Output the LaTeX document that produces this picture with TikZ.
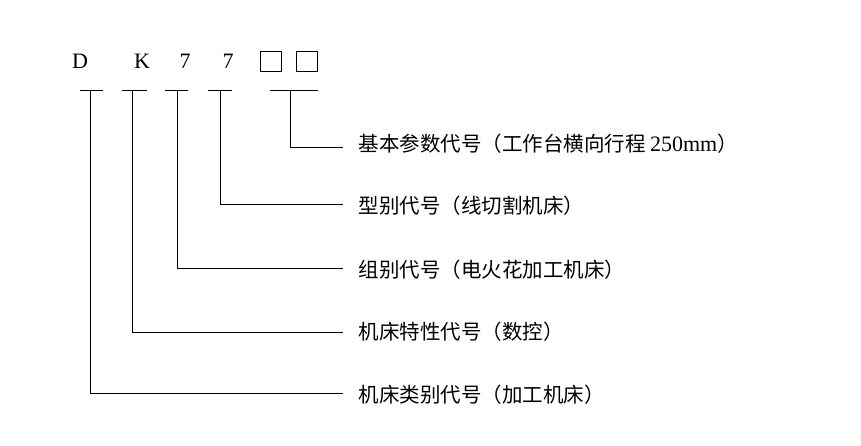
\documentclass[tikz,border=0pt]{standalone}
\usepackage{fontspec}
\setmainfont{Liberation Serif}
\newfontfamily\cjk{Noto Sans CJK SC}
\begin{document}
\begin{tikzpicture}[x=1pt,y=-1pt,line width=1pt,
  lbl/.style={anchor=west,inner sep=0pt,font=\cjk\fontsize{20.5}{24}\selectfont},
  ltr/.style={inner sep=0pt,font=\fontsize{22}{24}\selectfont},
  bx/.style={draw,minimum width=21pt,minimum height=20pt,inner sep=0pt}]
\useasboundingbox (0,0) rectangle (861,445);
\node[ltr] (d) at (80,61) {D};
\node[ltr] (k) at (142,61) {K};
\node[ltr] (s1) at (185,61) {7};
\node[ltr] (s2) at (228,61) {7};
\node[bx] (b1) at (271,61) {};
\node[bx] (b2) at (307,61) {};
\coordinate (ud) at (90,90); \draw (80,90) -- (103,90);
\coordinate (uk) at (132,90); \draw (122,90) -- (147,90);
\coordinate (u1) at (177,90); \draw (165,90) -- (188,90);
\coordinate (u2) at (220,90); \draw (208,90) -- (232,90);
\coordinate (ub) at (290,90); \draw (270,90) -- (318,90);
\node[lbl] (t1) at (358,144) {基本参数代号（工作台横向行程 {\rmfamily\fontsize{22}{24}\selectfont 250mm}）};
\node[lbl] (t2) at (358,206) {型别代号（线切割机床）};
\node[lbl] (t3) at (358,270) {组别代号（电火花加工机床）};
\node[lbl] (t4) at (358,332) {机床特性代号（数控）};
\node[lbl] (t5) at (358,395) {机床类别代号（加工机床）};
\coordinate (e1) at (343,147); \coordinate (e2) at (343,204);
\coordinate (e3) at (343,268); \coordinate (e4) at (343,332);
\coordinate (e5) at (343,393);
\draw (ub) |- (e1);
\draw (u2) |- (e2);
\draw (u1) |- (e3);
\draw (uk) |- (e4);
\draw (ud) |- (e5);
\end{tikzpicture}
\end{document}
